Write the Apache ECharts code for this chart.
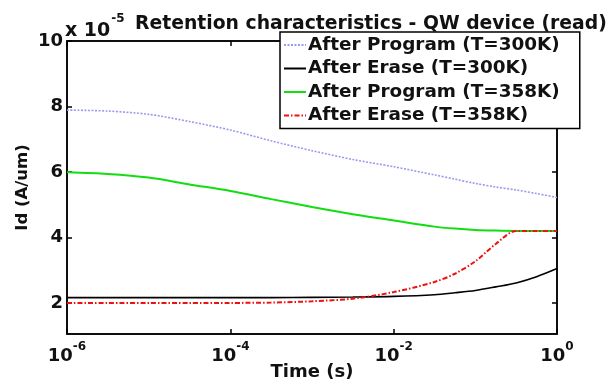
<!DOCTYPE html>
<html>
<head>
<meta charset="utf-8">
<script src="https://cdn.jsdelivr.net/npm/echarts@6/dist/echarts.min.js"></script>
<style>
  html, body { margin: 0; padding: 0; background: #fff; }
  #chart { width: 611px; height: 384px; }
</style>
</head>
<body>
<div id="chart"></div>
<script>
// time points as powers of ten (seconds)
const timeExp = [-6, -5.5, -5, -4.5, -4, -3.5, -3, -2.5, -2, -1.5, -1.25, -1, -0.75, -0.5, -0.25, 0]
// Id in units of 1e-5 A/um
const program300 = [7.89, 7.86, 7.76, 7.54, 7.28, 6.95, 6.65, 6.38, 6.16, 5.91, 5.78, 5.65, 5.54, 5.45, 5.34, 5.22]
const erase300 = [2.16, 2.16, 2.16, 2.16, 2.16, 2.16, 2.17, 2.18, 2.20, 2.25, 2.31, 2.38, 2.49, 2.61, 2.80, 3.05]
const program358 = [5.99, 5.94, 5.83, 5.62, 5.42, 5.17, 4.93, 4.71, 4.52, 4.33, 4.27, 4.23, 4.21, 4.20, 4.20, 4.20]
const erase358 = [2.00, 2.00, 2.00, 2.00, 2.00, 2.01, 2.05, 2.13, 2.33, 2.64, 2.89, 3.27, 3.80, 4.20, 4.20, 4.20]
const seriesNames = ['After Program (T=300K)', 'After Erase (T=300K)', 'After Program (T=358K)', 'After Erase (T=358K)']
const yTicks = [2, 4, 6, 8, 10]

const FONT = '"DejaVu Sans", Arial, sans-serif'
const times = timeExp.map(e => Math.pow(10, e))
const pairs = vals => vals.map((v, i) => [times[i], v])

const chart = echarts.init(document.getElementById('chart'))

const axisLine = { lineStyle: { color: '#000', width: 1.5 } }
const tick = { inside: true, length: 5, lineStyle: { color: '#000', width: 1.5 } }

chart.setOption({
  animation: false,
  backgroundColor: '#fff',
  textStyle: { fontFamily: FONT },
  grid: {
    left: 67, right: 54, top: 41, bottom: 50, outerBoundsMode: 'none',
    show: true, borderColor: '#000', borderWidth: 1.5,
  },
  title: {
    text: 'Retention characteristics - QW device (read)',
    left: 130, top: 10,
    textStyle: { fontFamily: FONT, fontWeight: 'bold', fontSize: 18.8, color: '#111' },
  },
  graphic: [{
    type: 'text', left: 65, top: 13,
    style: {
      text: '{a|x 10}{s|-5}',
      rich: {
        a: { fontFamily: FONT, fontWeight: 'bold', fontSize: 19, fill: '#111', lineHeight: 28, verticalAlign: 'bottom' },
        s: { fontFamily: FONT, fontWeight: 'bold', fontSize: 12, fill: '#111', lineHeight: 28, verticalAlign: 'top', padding: [0, 0, 0, 1] },
      },
    },
  }],
  legend: {
    orient: 'vertical', left: 280, top: 32, z: 10,
    backgroundColor: '#fff', borderColor: '#000', borderWidth: 1.5,
    padding: [3, 20, 3, 3], itemGap: 3.5, itemWidth: 22, itemHeight: 14,
    itemStyle: { opacity: 0 },
    textStyle: { fontFamily: FONT, fontWeight: 'bold', fontSize: 18.4, lineHeight: 20, color: '#111', padding: [0, 0, 0, -3] },
    data: seriesNames,
  },
  xAxis: [{
    type: 'log', logBase: 100, min: 1e-6, max: 1,
    name: 'Time (s)', nameLocation: 'middle', nameGap: 29, nameMoveOverlap: false,
    nameTextStyle: { fontFamily: FONT, fontWeight: 'bold', fontSize: 18, color: '#111' },
    axisLine, axisTick: tick,
    splitLine: { show: false },
    axisLabel: {
      margin: 7,
      formatter: v => '{b|10}{s|' + Math.round(Math.log10(v)) + '}',
      rich: {
        b: { fontFamily: FONT, fontWeight: 'bold', fontSize: 18, color: '#111', lineHeight: 24, verticalAlign: 'bottom' },
        s: { fontFamily: FONT, fontWeight: 'bold', fontSize: 12, color: '#111', lineHeight: 24, verticalAlign: 'top' },
      },
    },
  }, {
    type: 'log', logBase: 100, min: 1e-6, max: 1, position: 'top',
    axisLine, axisTick: tick, axisLabel: { show: false }, splitLine: { show: false },
  }],
  yAxis: [{
    type: 'value', min: 1.05, max: 10,
    name: 'Id (A/um)', nameLocation: 'middle', nameGap: 36, nameRotate: 90, nameMoveOverlap: false,
    nameTextStyle: { fontFamily: FONT, fontWeight: 'bold', fontSize: 16.5, color: '#111' },
    axisLine: { show: true, ...axisLine },
    axisTick: { ...tick, customValues: yTicks },
    splitLine: { show: false },
    axisLabel: { customValues: yTicks, margin: 4, fontFamily: FONT, fontWeight: 'bold', fontSize: 18, color: '#111' },
  }, {
    type: 'value', min: 1.05, max: 10, position: 'right',
    axisLine: { show: true, ...axisLine }, axisLabel: { show: false }, splitLine: { show: false },
    axisTick: { ...tick, customValues: yTicks },
  }],
  series: [
    {
      name: seriesNames[0], type: 'line', smooth: 0.3, symbol: 'none', data: pairs(program300),
      lineStyle: { color: '#9a9af0', width: 1.6, type: [2, 1.5] }, itemStyle: { color: '#9a9af0' },
    },
    {
      name: seriesNames[1], type: 'line', smooth: 0.3, symbol: 'none', data: pairs(erase300),
      lineStyle: { color: '#000', width: 1.6 }, itemStyle: { color: '#000' },
    },
    {
      name: seriesNames[2], type: 'line', smooth: 0.3, symbol: 'none', data: pairs(program358),
      lineStyle: { color: '#11dd11', width: 2 }, itemStyle: { color: '#11dd11' },
    },
    {
      name: seriesNames[3], type: 'line', smooth: 0.3, symbol: 'none', data: pairs(erase358),
      lineStyle: { color: '#ee1111', width: 2, type: [5, 2, 1.5, 2] }, itemStyle: { color: '#ee1111' },
    },
  ],
})
</script>
</body>
</html>
